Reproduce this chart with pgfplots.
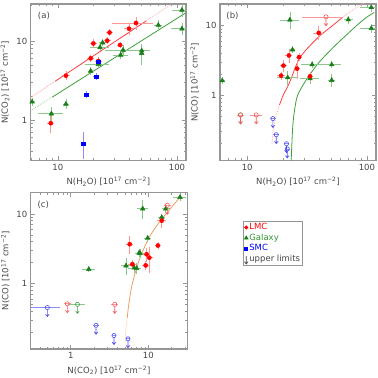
\documentclass[border=0pt]{standalone}
\usepackage{fontspec}
\setmainfont{DejaVu Sans}
\usepackage{pgfplots}
\usepackage{pgfplotstable}
\pgfplotsset{compat=1.18}

\definecolor{lmc}{RGB}{255,0,0}
\definecolor{lmcerr}{RGB}{255,150,150}
\definecolor{lmcul}{RGB}{245,90,90}
\definecolor{gal}{RGB}{25,125,25}
\definecolor{galerr}{RGB}{140,200,140}
\definecolor{galul}{RGB}{70,160,70}
\definecolor{galtxt}{RGB}{50,150,50}
\definecolor{smc}{RGB}{0,0,255}
\definecolor{smcerr}{RGB}{140,140,255}
\definecolor{smcul}{RGB}{80,80,240}
\definecolor{fitred}{RGB}{255,60,60}
\definecolor{fitgreen}{RGB}{60,160,60}
\definecolor{fitorange}{RGB}{235,160,100}
\definecolor{frame}{RGB}{150,150,150}
\definecolor{txt}{RGB}{70,70,70}

\newcommand{\fs}{\fontsize{8.5}{10}\selectfont}

\pgfdeclareplotmark{ul}{%
  \pgfpathcircle{\pgfpointorigin}{2.1pt}\pgfusepathqstroke
  \pgfpathmoveto{\pgfpoint{0pt}{-2.1pt}}\pgfpathlineto{\pgfpoint{0pt}{-9pt}}
  \pgfpathmoveto{\pgfpoint{-1.8pt}{-6.6pt}}\pgfpathlineto{\pgfpoint{0pt}{-9pt}}\pgfpathlineto{\pgfpoint{1.8pt}{-6.6pt}}\pgfusepathqstroke}
\pgfdeclareplotmark{ularr}{%
  \pgfpathmoveto{\pgfpoint{0pt}{3pt}}\pgfpathlineto{\pgfpoint{0pt}{-5pt}}
  \pgfpathmoveto{\pgfpoint{-1.8pt}{-2.6pt}}\pgfpathlineto{\pgfpoint{0pt}{-5pt}}\pgfpathlineto{\pgfpoint{1.8pt}{-2.6pt}}\pgfusepathqstroke}

\pgfplotsset{
  every axis/.append style={scale only axis,
    axis line style={frame, line width=1.1pt},
    tick style={frame, line width=0.5pt},
    major tick length=4.5pt, minor tick length=2.5pt,
    tick label style={font=\fs, text=txt},
    label style={font=\fs, text=txt}},
  myLMC/.style={only marks, mark=*, mark size=2.1pt, color=lmc,
    error bars/x dir=both, error bars/x explicit,
    error bars/y dir=both, error bars/y explicit,
    error bars/error bar style={lmcerr, line width=0.6pt},
    error bars/error mark options={lmcerr, line width=0.6pt, mark size=1.5pt}},
  myGal/.style={only marks, mark=triangle*, mark size=2.7pt, color=gal,
    error bars/x dir=both, error bars/x explicit,
    error bars/y dir=both, error bars/y explicit,
    error bars/error bar style={galerr, line width=0.6pt},
    error bars/error mark options={galerr, line width=0.6pt, mark size=1.5pt}},
  mySMC/.style={only marks, mark=square*, mark size=1.9pt, color=smc,
    error bars/x dir=both, error bars/x explicit,
    error bars/y dir=both, error bars/y explicit,
    error bars/error bar style={smcerr, line width=0.6pt},
    error bars/error mark options={smcerr, line width=0.6pt, mark size=1.5pt}},
  myUL/.style 2 args={only marks, mark=ul, color=#1, mark options={line width=0.6pt},
    error bars/x dir=both, error bars/x explicit,
    error bars/error bar style={#2, line width=0.6pt},
    error bars/error mark options={#2, line width=0.6pt, mark size=1.5pt}},
}

% ---------------- panel (a): N(CO2) vs N(H2O)
\pgfplotstableread{
x y ex ey
11.7 3.64 0.6 0.3
18.9 6.04 0.8 0.4
19.9 9.3 0.8 0.8
21.9 5.58 0.8 0.4
26.0 10.1 0.9 0.6
27.2 12.8 0.9 0.7
33.3 8.9 1.2 0.5
39.6 14.3 2.5 1.8
45.3 16.9 16 2.6
8.74 0.91 0.3 0.2
}\aLMC
\pgfplotstableread{
x y ex ey
6.09 1.70 0.15 0.12
8.84 1.20 1.85 0.18
11.7 1.59 0.4 0.15
18.9 4.17 0.6 0.3
21.9 5.07 4.4 0.35
22.6 8.32 3.3 0.6
23.8 9.5 0.8 0.5
35.3 7.7 9.5 0.8
33.7 6.65 4.0 0.5
50.6 7.54 7.0 1.2
50.6 6.99 1.0 1.8
69.7 15.9 3.5 1.5
110 24.7 16 3.5
110 14.3 18 1.8
}\aGal
\pgfplotstableread{
x y ex ey
21.9 5.47 0.5 0.35
21.1 3.53 0.6 0.2
17.4 2.09 0.4 0.12
16.3 0.50 0.3 0.17
}\aSMC
% ---------------- panel (b): N(CO) vs N(H2O)
\pgfplotstableread{
x y ex ey
19.2 1.91 0.9 0.15
20.1 2.66 0.8 0.4
22.3 3.73 0.8 0.7
26.1 2.41 0.8 0.6
27.1 3.53 0.9 0.3
33.5 1.87 1.2 0.2
39.6 7.87 3.0 1.4
}\bLMC
\pgfplotstableread{
x y ex
45.5 13.4 16
8.8 0.52 0.3
11.9 0.52 1.1
}\bLMCul
\pgfplotstableread{
x y ex ey
6.19 1.62 0.15 0.1
21.8 1.79 3.5 0.3
22.7 12.1 3.5 2.8
23.9 4.5 0.6 0.3
33.5 1.73 5.0 0.2
34.8 2.75 6.0 0.2
50.8 2.75 8.0 0.2
50.8 1.64 2.0 0.25
69.8 12.2 4.0 1.0
108.6 18.3 18 1.5
108.6 9.15 18 0.8
}\bGal
\pgfplotstableread{
x y ex
8.8 0.52 0.3
}\bGalul
\pgfplotstableread{
x y ex
16.4 0.46 0.5
17.5 0.27 0.5
21.3 0.20 0.5
21.6 0.168 0.5
}\bSMCul
% ---------------- panel (c): N(CO) vs N(CO2)
\pgfplotstableread{
x y ex ey
5.76 3.67 0.4 0.85
6.22 1.89 0.5 0.15
9.5 2.63 0.6 0.5
10.3 2.35 0.6 0.85
9.25 1.82 0.5 0.2
13.3 3.51 0.5 0.25
14.9 8.0 1.5 1.5
}\cLMC
\pgfplotstableread{
x y ex
17.6 13.3 1.0
3.69 0.50 0.2
0.904 0.51 0.05
}\cLMCul
\pgfplotstableread{
x y ex ey
8.47 11.9 1.0 3.0
16.8 11.9 1.3 1.2
14.9 8.93 1.0 0.7
25.6 17.4 4.0 1.5
9.8 4.49 0.5 0.3
7.82 2.72 0.7 0.3
7.6 2.75 0.5 0.2
5.16 1.80 0.5 0.4
7.09 1.65 0.5 0.2
6.6 1.68 0.8 0.2
1.71 1.60 0.25 0.08
}\cGal
\pgfplotstableread{
x y ex
1.22 0.50 0.25
}\cGalul
\pgfplotstableread{
x y ex
0.50 0.45 0.2
2.12 0.25 0.1
3.61 0.178 0.1
5.47 0.16 0.1
}\cSMCul

\begin{document}
\begin{tikzpicture}
\useasboundingbox (0,0) rectangle (378pt,378pt);

% ===== (a)
\begin{axis}[xmode=log, ymode=log, log ticks with fixed point,
  /pgf/number format/assume math mode=true,
  at={(30.7pt,217.3pt)}, anchor=south west,
  width=155.3pt, height=156.7pt,
  xmin=5.93, xmax=119, ymin=0.305, ymax=29.4,
  xlabel={N(H\textsubscript{2}O) [10\textsuperscript{17} cm\textsuperscript{−2}]},
  ylabel={N(CO\textsubscript{2}) [10\textsuperscript{17} cm\textsuperscript{−2}]}]
\addplot[fitred!45, densely dotted, line width=0.8pt] coordinates {(5.93,1.93) (9.5,3.09)};
\addplot[fitred, line width=0.8pt] coordinates {(9.5,3.09) (55,17.9)};
\addplot[fitred!45, densely dotted, line width=0.8pt] coordinates {(55,17.9) (100,32.5)};
\addplot[fitgreen!45, densely dotted, line width=0.8pt] coordinates {(5.93,1.31) (9,1.95)};
\addplot[fitgreen, line width=0.8pt] coordinates {(9,1.95) (119,22.8)};
\addplot[myGal] table[x=x,y=y,x error=ex,y error=ey] {\aGal};
\addplot[myLMC] table[x=x,y=y,x error=ex,y error=ey] {\aLMC};
\addplot[mySMC] table[x=x,y=y,x error=ex,y error=ey] {\aSMC};
\node[font=\fs, text=txt] at (rel axis cs:0.085,0.925) {(a)};
\end{axis}

% ===== (b)
\begin{axis}[xmode=log, ymode=log, log ticks with fixed point,
  /pgf/number format/assume math mode=true,
  at={(220pt,217.3pt)}, anchor=south west,
  width=156pt, height=156.7pt,
  xmin=5.93, xmax=119, ymin=0.114, ymax=20.5,
  xlabel={N(H\textsubscript{2}O) [10\textsuperscript{17} cm\textsuperscript{−2}]},
  ylabel={N(CO) [10\textsuperscript{17} cm\textsuperscript{−2}]}]
\addplot[fitred!45, densely dotted, line width=0.8pt] coordinates {(16.1,0.2) (16.6,0.35) (17.5,0.52) (18.6,0.72)};
\addplot[fitred, line width=0.8pt, smooth] coordinates {(18.6,0.72) (20,1.0) (22.5,1.5) (25,2.4) (27.1,3.3) (30,4.2) (35,5.6) (41.3,7.4) (50,9.6) (62,13.0)};
\addplot[fitred!45, densely dotted, line width=0.8pt] coordinates {(62,13.0) (75,16.6) (89,20) (95,21.2)};
\addplot[fitgreen, line width=0.8pt, smooth] coordinates {(23.3,0.114) (24,0.35) (25,0.65) (26.4,1.0) (30,1.5) (33.5,2.0) (40,3.0) (50,4.5) (60,6.1) (70,7.8) (85,10.6) (100,13.3) (115,15.5)};
\addplot[myGal] table[x=x,y=y,x error=ex,y error=ey] {\bGal};
\addplot[myUL={galul}{galerr}] table[x=x,y=y,x error=ex] {\bGalul};
\addplot[myLMC] table[x=x,y=y,x error=ex,y error=ey] {\bLMC};
\addplot[myUL={lmcul}{lmcerr}] table[x=x,y=y,x error=ex] {\bLMCul};
\addplot[myUL={smcul}{smcerr}] table[x=x,y=y,x error=ex] {\bSMCul};
\node[font=\fs, text=txt] at (rel axis cs:0.08,0.925) {(b)};
\end{axis}

% ===== (c)
\begin{axis}[xmode=log, ymode=log, log ticks with fixed point,
  /pgf/number format/assume math mode=true,
  at={(30.7pt,29pt)}, anchor=south west,
  width=156.6pt, height=156.7pt,
  xmin=0.305, xmax=31.8, ymin=0.114, ymax=20.5,
  xlabel={N(CO\textsubscript{2}) [10\textsuperscript{17} cm\textsuperscript{−2}]},
  ylabel={N(CO) [10\textsuperscript{17} cm\textsuperscript{−2}]},
  legend entries={\textcolor{red}{LMC},\textcolor{galtxt}{Galaxy},\textcolor{blue}{SMC},\textcolor{txt}{upper limits}},
  legend cell align=left,
  legend image code/.code={\draw[#1] plot coordinates {(0pt,0pt)};},
  legend style={at={(1.356,0.817)}, anchor=north west, draw=frame, line width=0.8pt,
    font=\fs, inner xsep=1pt, inner ysep=1pt, row sep=0pt,
    nodes={inner sep=1.3pt}}]
\addlegendimage{only marks, mark=*, mark size=1.6pt, color=lmc}
\addlegendimage{only marks, mark=triangle*, mark size=2pt, color=gal}
\addlegendimage{only marks, mark=square*, mark size=1.4pt, color=smc}
\addlegendimage{only marks, mark=ularr, color=txt, mark options={line width=0.6pt}}
\addplot[fitorange!60, densely dotted, line width=0.8pt] coordinates {(5.0,0.14) (5.15,0.22) (5.35,0.32)};
\addplot[fitorange, line width=0.8pt, smooth] coordinates {(5.35,0.32) (5.6,0.5) (6.1,0.9) (7.1,1.7) (8,2.5) (9,3.4) (10.5,4.8) (12.5,6.5) (15,8.5) (17.3,10.3) (20,12.6) (25.6,17.4)};
\addplot[myGal] table[x=x,y=y,x error=ex,y error=ey] {\cGal};
\addplot[myUL={galul}{galerr}] table[x=x,y=y,x error=ex] {\cGalul};
\addplot[myLMC] table[x=x,y=y,x error=ex,y error=ey] {\cLMC};
\addplot[myUL={lmcul}{lmcerr}] table[x=x,y=y,x error=ex] {\cLMCul};
\addplot[myUL={smcul}{smcerr}] table[x=x,y=y,x error=ex] {\cSMCul};
\node[font=\fs, text=txt] at (rel axis cs:0.08,0.923) {(c)};
\end{axis}
\end{tikzpicture}
\end{document}
